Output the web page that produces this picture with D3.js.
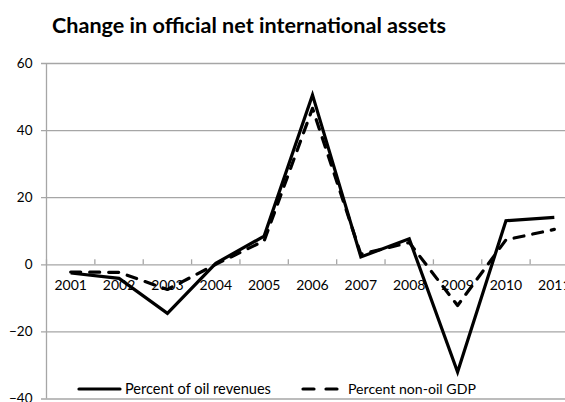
<!DOCTYPE html>
<html>
<head>
<meta charset="utf-8">
<script src="https://cdn.jsdelivr.net/npm/d3@7/dist/d3.min.js"></script>
<style>
  html, body { margin: 0; padding: 0; background: #fff; }
  svg { display: block; font-family: Lato, "Open Sans", sans-serif; }
</style>
</head>
<body>
<svg id="chart" width="565" height="402"></svg>
<script>
// Annual change in official net international assets
const years = ["2001","2002","2003","2004","2005","2006","2007","2008","2009","2010","2011"];
const oilRevenues = [-2.6, -4.2, -14.6, 0.3, 8.4, 50.5, 2.2, 7.6, -32.1, 13.0, 14.0];
const nonOilGDP   = [-2.3, -2.4, -7.5, 0.0, 7.0, 46.5, 3.0, 6.5, -12.3, 7.3, 10.4];
const yTicks = [-40, -20, 0, 20, 40, 60];
const seriesNames = ["Percent of oil revenues", "Percent non-oil GDP"];

const svg = d3.select("#chart");
const gridColor = "#a6a6a6";

const x = d3.scaleBand().domain(years).range([46.5, 578.5]).padding(0);
const y = d3.scaleLinear().domain([-40, 60]).range([398.5, 63]);

// Size a text element so that it spans the given width
function fitWidth(sel, width) {
  const node = sel.node();
  const fs = parseFloat(sel.attr("font-size"));
  const w = node.getComputedTextLength();
  if (w > 0) sel.attr("font-size", (fs * width / w).toFixed(2));
}

// Title
const title = svg.append("text")
  .attr("x", 52).attr("y", 33)
  .attr("font-weight", "bold")
  .attr("font-size", 18.5)
  .attr("fill", "#000")
  .text("Change in official net international assets");
fitWidth(title, 394);

// Horizontal gridlines with outward ticks on the value axis
const yAxis = d3.axisLeft(y).tickValues(yTicks)
  .tickSize(-(578.5 - 46.5)).tickSizeOuter(0).tickPadding(8);
const gy = svg.append("g").attr("transform", "translate(46.5,0)").call(yAxis);
gy.select(".domain").remove();
gy.selectAll(".tick line")
  .attr("x1", -5.5)
  .attr("stroke", gridColor).attr("stroke-width", 1.3);
gy.selectAll(".tick text")
  .attr("x", -14)
  .attr("font-size", 13.5).attr("fill", "#000")
  .attr("font-family", "Lato, sans-serif");

// Vertical value axis line
svg.append("line")
  .attr("x1", 46.5).attr("x2", 46.5)
  .attr("y1", y(60)).attr("y2", y(-40))
  .attr("stroke", gridColor).attr("stroke-width", 1.3);

// Category axis crossing at zero, ticks between categories
const boundaries = d3.range(years.length + 1).map(i => 46.5 + i * x.bandwidth());
svg.append("g").selectAll("line").data(boundaries).join("line")
  .attr("x1", d => d).attr("x2", d => d)
  .attr("y1", y(0)).attr("y2", y(0) - 5)
  .attr("stroke", gridColor).attr("stroke-width", 1.3);

svg.append("g").selectAll("text").data(years).join("text")
  .attr("x", d => x(d) + x.bandwidth() / 2)
  .attr("y", y(0) + 26)
  .attr("text-anchor", "middle")
  .attr("font-size", 14).attr("fill", "#000")
  .text(d => d);

// Series lines
const line = d3.line()
  .x((d, i) => x(years[i]) + x.bandwidth() / 2)
  .y(d => y(d));

svg.append("path").datum(nonOilGDP)
  .attr("d", line)
  .attr("fill", "none").attr("stroke", "#000")
  .attr("stroke-width", 3.2)
  .attr("stroke-dasharray", "10,9")
  .attr("stroke-linecap", "round")
  .attr("stroke-linejoin", "round");

svg.append("path").datum(oilRevenues)
  .attr("d", line)
  .attr("fill", "none").attr("stroke", "#000")
  .attr("stroke-width", 3.2)
  .attr("stroke-linejoin", "miter");

// Legend
const legend = svg.append("g");
legend.append("line")
  .attr("x1", 79).attr("x2", 120).attr("y1", 389).attr("y2", 389)
  .attr("stroke", "#000").attr("stroke-width", 3.2).attr("stroke-linecap", "round");
const lt1 = legend.append("text")
  .attr("x", 125).attr("y", 394)
  .attr("font-size", 13).attr("fill", "#000")
  .text(seriesNames[0]);
fitWidth(lt1, 146);
legend.append("line")
  .attr("x1", 303).attr("x2", 340).attr("y1", 389).attr("y2", 389)
  .attr("stroke", "#000").attr("stroke-width", 3.2)
  .attr("stroke-dasharray", "11,12").attr("stroke-linecap", "round");
const lt2 = legend.append("text")
  .attr("x", 348).attr("y", 394)
  .attr("font-size", 13).attr("fill", "#000")
  .text(seriesNames[1]);
fitWidth(lt2, 128);
</script>
</body>
</html>
